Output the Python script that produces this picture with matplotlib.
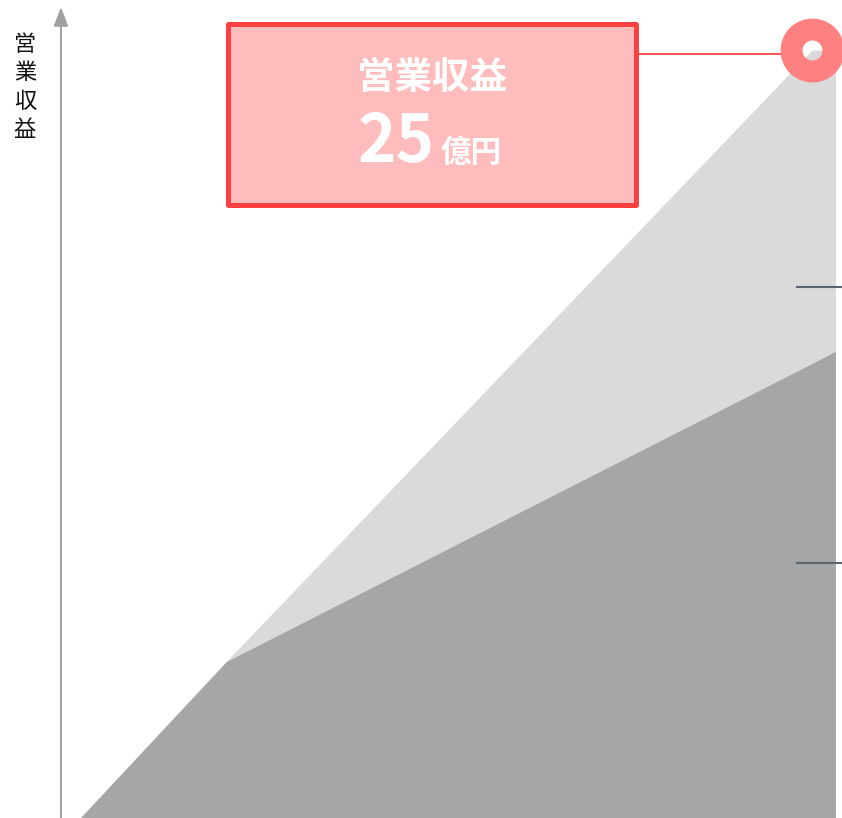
import matplotlib
matplotlib.use('Agg')
import matplotlib.pyplot as plt
from matplotlib.patches import Rectangle

plt.rcParams['font.family'] = ['Noto Sans CJK JP', 'DejaVu Sans']

# data (x: period, y: 億円)
years = [0, 1, 5, 5.16]
base_revenue = [0, 5.1, 14.8, 15.2]
total_revenue = [0, 5.1, 25, 25]
ref_levels = [17.3, 8.3]
peak_x, peak_y = 5, 25
label_title = '営業収益'
label_value = '25'
label_unit = '億円'

W, H = 842, 818
fig = plt.figure(figsize=(W / 100, H / 100), dpi=100)
ax = fig.add_axes([0, 0, 1, 1])
ax.set_xlim(-80 / 146.4, 762 / 146.4)
ax.set_ylim(0, 818 / 30.72)
ax.axis('off')


def px(x, y):
    # pixel position (from top-left) -> figure fraction
    return x / W, 1 - y / H


# stacked areas
ax.fill_between(years, 0, base_revenue, color='#a6a6a6', lw=0, zorder=2)
ax.fill_between(years, base_revenue, total_revenue, color='#dadada', lw=0, zorder=1)

# y axis with arrow
ax.annotate('', xy=(-0.13, 26.4), xytext=(-0.13, -0.2),
            arrowprops=dict(arrowstyle='-|>,head_length=0.58,head_width=0.22',
                            mutation_scale=20, color='#a0a0a0', lw=1.4,
                            shrinkA=0, shrinkB=0))
ax.text(*px(25, 33), '\n'.join(label_title), transform=fig.transFigure,
        ha='center', va='top', fontsize=16, linespacing=1.3,
        fontweight='normal', color='#111111')

# reference marks on the right
for level in ref_levels:
    ax.plot([4.891, 5.21], [level, level], color='#5b6570', lw=1.5,
            solid_capstyle='butt', zorder=4)

# connector + peak marker
ax.plot([px(638, 54)[0], px(790, 54)[0]], [px(638, 54)[1]] * 2,
        transform=fig.transFigure, color='#ff4545', lw=1.3, zorder=4)
ax.plot(peak_x, peak_y, marker='o', markersize=30.2, markerfacecolor='none',
        markeredgecolor='#ff8080', markeredgewidth=15.8, zorder=5)

# label box
x0, y0 = px(227.5, 205.5)
x1, y1 = px(635.5, 24.5)
fig.add_artist(Rectangle((x0, y0), x1 - x0, y1 - y0, transform=fig.transFigure,
                         facecolor='#ffbcbc', edgecolor='#ff4040', lw=3.6,
                         joinstyle='round'))
fig.text(*px(432, 77), label_title, ha='center', va='center', fontsize=27,
         fontweight='bold', color='white')
fig.text(*px(358, 162), label_value, ha='left', va='baseline', fontsize=47,
         fontweight='bold', color='white')
fig.text(*px(441, 162), label_unit, ha='left', va='baseline', fontsize=22,
         fontweight='bold', color='white')

fig.savefig('out.png', dpi=100)
